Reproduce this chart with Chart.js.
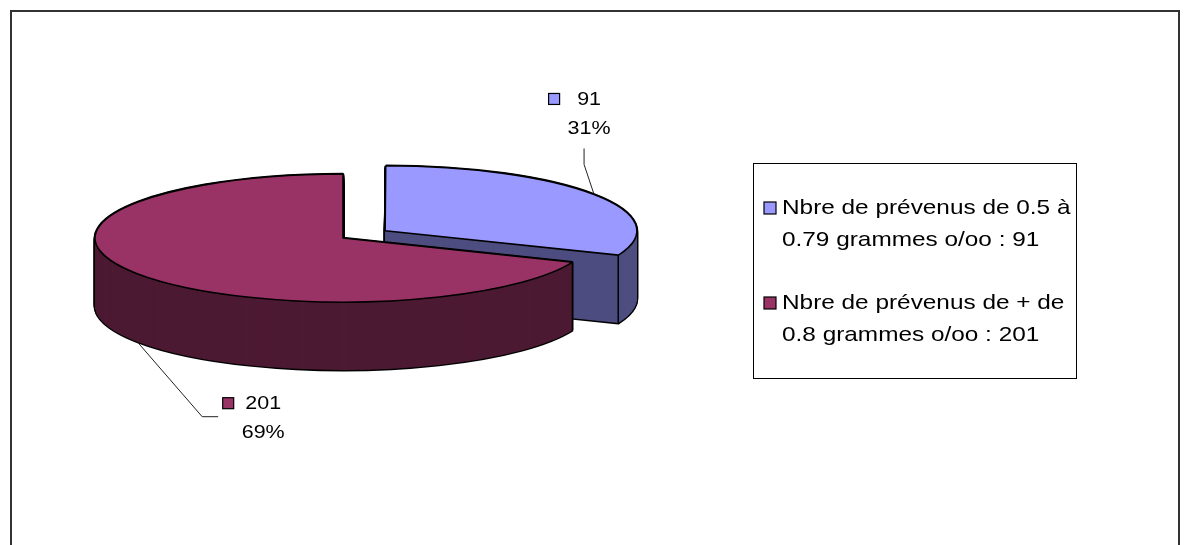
<!DOCTYPE html>
<html>
<head>
<meta charset="utf-8">
<script src="https://cdn.jsdelivr.net/npm/chart.js@4.4.1/dist/chart.umd.min.js"></script>
<style>
  html, body { margin: 0; padding: 0; background: #fff; }
  canvas { display: block; }
</style>
</head>
<body>
<canvas id="pie" width="1185" height="545"></canvas>
<script>
const categories = ['Nbre de prévenus de 0.5 à 0.79 grammes o/oo', 'Nbre de prévenus de + de 0.8 grammes o/oo'];
const counts = [91, 201];
const topColors = ['#9999FF', '#993366'];
const sideColors = ['#4D4D80', '#4D1A33'];
const explode = [203, 0];

// ellipse geometry of the tilted pie
const CX = 343, CY = 238, RX = 248, RY = 64, DEPTH = 68;
const K = RY / RX;
const FONT = '"Liberation Sans", Arial, sans-serif';
const SX = 1.16; // text is drawn slightly wide

// leader line bends and label centre, relative to where the leader touches the slice
const leaders = [
  { pts: [[0, 0], [-10, -30], [-10, -46]], lx: -5, ly: -95 },
  { pts: [[0, 0], [65, 75], [81, 75]], lx: 126, ly: 62 }
];

function stretchedText(ctx, text, x, y, align) {
  const w = ctx.measureText(text).width * SX;
  const left = align === 'center' ? x - w / 2 : x;
  ctx.save();
  ctx.translate(left, y);
  ctx.scale(SX, 1);
  ctx.fillText(text, 0, 0);
  ctx.restore();
  return w;
}

function textW(ctx, text) { return ctx.measureText(text).width * SX; }

function wrap(ctx, text, maxW) {
  const lines = [];
  let cur = '';
  for (const w of text.split(' ')) {
    const t = cur ? cur + ' ' + w : w;
    if (cur && textW(ctx, t) > maxW) { lines.push(cur); cur = w; } else cur = t;
  }
  lines.push(cur);
  return lines;
}

// screen point on a slice's top rim at a given angle (offset included)
function rimPoint(arc, angle) {
  const o = (arc.options.offset || 0) / 4;
  const half = (arc.startAngle + arc.endAngle) / 2;
  const fix = 1 - Math.sin(Math.min(Math.PI, arc.circumference));
  const r = arc.outerRadius + o * fix;
  const x = arc.x + Math.cos(half) * o + Math.cos(angle) * r;
  const y = arc.y + Math.sin(half) * o + Math.sin(angle) * r;
  return { x, y: arc.y + (y - arc.y) * K };
}

const pie3d = {
  id: 'pie3d',
  beforeDatasetsDraw(chart) {
    const ctx = chart.ctx;
    const meta = chart.getDatasetMeta(0);
    const base = ctx.getTransform();
    const nativeStroke = ctx.stroke;
    // strokes use the untilted transform so outlines keep an even width
    ctx.stroke = function () { this.save(); this.setTransform(base); nativeStroke.call(this); this.restore(); };

    const drawWith = (arc, dy, opts) => {
      ctx.save();
      ctx.translate(0, dy);
      ctx.translate(arc.x, arc.y);
      ctx.scale(1, K);
      ctx.translate(-arc.x, -arc.y);
      const saved = arc.options;
      arc.options = Object.assign({}, saved, opts);
      arc.draw(ctx);
      arc.options = saved;
      ctx.restore();
    };

    const order = meta.data.map((arc, i) => i)
      .sort((a, b) => Math.sin((meta.data[a].startAngle + meta.data[a].endAngle) / 2) -
                      Math.sin((meta.data[b].startAngle + meta.data[b].endAngle) / 2));

    for (const i of order) {
      const arc = meta.data[i];
      for (let d = DEPTH; d >= 0; d--) {
        drawWith(arc, d, { backgroundColor: 'rgba(0,0,0,0)', borderColor: '#000', borderWidth: 2.6 });
      }
      for (let d = DEPTH; d >= 1; d--) {
        drawWith(arc, d, { backgroundColor: sideColors[i], borderWidth: 0 });
      }
      ctx.save();
      ctx.strokeStyle = '#000';
      ctx.lineWidth = 1.5;
      for (const a of [arc.startAngle, arc.endAngle]) {
        if (Math.sin(a) > 0.02) {
          const p = rimPoint(arc, a);
          ctx.beginPath();
          ctx.moveTo(p.x, p.y);
          ctx.lineTo(p.x, p.y + DEPTH);
          nativeStroke.call(ctx);
        }
      }
      ctx.restore();
      drawWith(arc, 0, { backgroundColor: topColors[i], borderColor: '#000', borderWidth: 1.6 });
    }
    delete ctx.stroke;
    return false;
  },
  afterDraw(chart) {
    const ctx = chart.ctx;
    const meta = chart.getDatasetMeta(0);
    const total = counts.reduce((s, v) => s + v, 0);

    // outer frame
    ctx.save();
    ctx.strokeStyle = '#333';
    ctx.lineWidth = 2;
    ctx.strokeRect(11, 11, 1168, 600);
    ctx.restore();

    // data labels with leader lines
    ctx.save();
    ctx.font = '18.5px ' + FONT;
    ctx.textBaseline = 'middle';
    meta.data.forEach((arc, i) => {
      const mid = (arc.startAngle + arc.endAngle) / 2;
      const p = rimPoint(arc, mid);
      if (Math.sin(mid) > 0) p.y += DEPTH;
      const L = leaders[i];
      ctx.strokeStyle = '#222';
      ctx.lineWidth = 1;
      ctx.beginPath();
      L.pts.forEach(([dx, dy], j) => {
        const x = p.x + dx, y = p.y + dy;
        if (j === 0) ctx.moveTo(x, y); else ctx.lineTo(x, y);
      });
      ctx.stroke();

      const lines = [String(counts[i]), Math.round(counts[i] / total * 100) + '%'];
      const lx = p.x + L.lx, ly = p.y + L.ly;
      const blockW = Math.max(...lines.map(t => textW(ctx, t)));
      ctx.fillStyle = '#000';
      lines.forEach((t, j) => stretchedText(ctx, t, lx, ly + j * 29, 'center'));
      const kx = lx - blockW / 2 - 8 - 11;
      ctx.fillStyle = topColors[i];
      ctx.fillRect(kx, ly - 6, 11, 11);
      ctx.strokeStyle = '#000';
      ctx.lineWidth = 1.2;
      ctx.strokeRect(kx, ly - 6, 11, 11);
    });
    ctx.restore();

    // legend box
    ctx.save();
    ctx.strokeStyle = '#000';
    ctx.lineWidth = 1;
    ctx.strokeRect(753.5, 163.5, 323, 215);
    ctx.font = '21px ' + FONT;
    ctx.textBaseline = 'middle';
    let y = 208;
    categories.forEach((c, i) => {
      const lines = wrap(ctx, c + ' : ' + counts[i], 300);
      ctx.fillStyle = topColors[i];
      ctx.fillRect(764, y - 6, 12, 12);
      ctx.strokeStyle = '#000';
      ctx.lineWidth = 1.2;
      ctx.strokeRect(764, y - 6, 12, 12);
      ctx.fillStyle = '#000';
      lines.forEach((t, j) => stretchedText(ctx, t, 782, y + j * 32, 'left'));
      y += (lines.length - 1) * 32 + 63;
    });
    ctx.restore();
  }
};

new Chart(document.getElementById('pie'), {
  type: 'pie',
  data: {
    labels: categories,
    datasets: [{
      data: counts,
      backgroundColor: topColors,
      borderColor: '#000',
      borderWidth: 1.6,
      offset: explode
    }]
  },
  options: {
    responsive: false,
    animation: false,
    events: [],
    radius: RX,
    layout: { padding: { left: 0, top: 0, right: 1185 - 2 * CX, bottom: 545 - 2 * CY } },
    plugins: { legend: { display: false }, tooltip: { enabled: false } }
  },
  plugins: [pie3d]
});
</script>
</body>
</html>
